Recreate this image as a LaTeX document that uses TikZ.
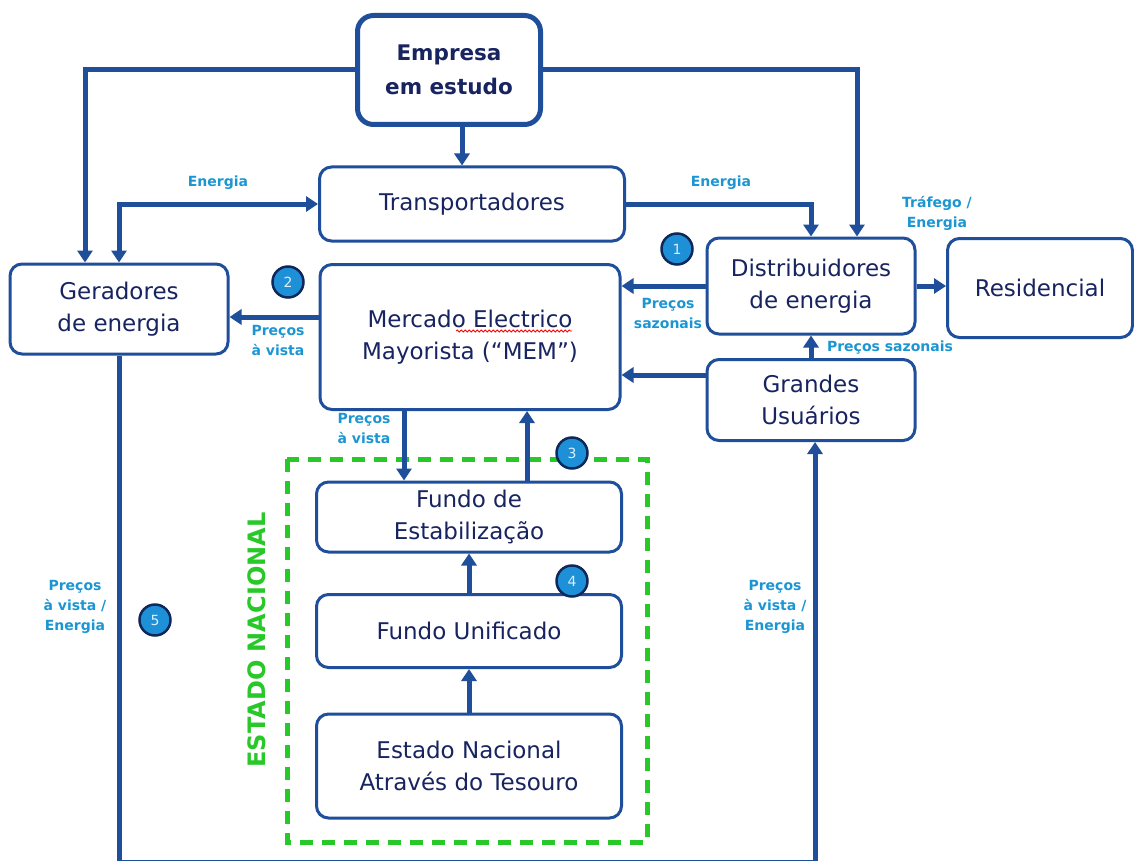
\documentclass[tikz,border=0pt]{standalone}
\usepackage{fontspec}
\setmainfont{DejaVu Sans}
\usetikzlibrary{arrows.meta,decorations.pathmorphing}
\definecolor{lineblue}{RGB}{31,78,154}
\definecolor{txtnavy}{RGB}{24,36,96}
\definecolor{lblblue}{RGB}{28,150,210}
\definecolor{circfill}{RGB}{30,144,216}
\definecolor{circedge}{RGB}{14,40,90}
\definecolor{dashgreen}{RGB}{40,200,40}
\tikzset{
  box/.style={draw=lineblue, line width=3pt, rounded corners=12pt, fill=white, text=txtnavy,
    align=center, font=\fontsize{23}{32}\selectfont, inner sep=0pt},
  conn/.style={draw=lineblue, line width=5pt, -{Triangle[length=12pt,width=15pt]}},
  biconn/.style={draw=lineblue, line width=5pt, {Triangle[length=12pt,width=15pt]}-{Triangle[length=12pt,width=15pt]}},
  lbl/.style={text=lblblue, font=\bfseries\fontsize{14}{20}\selectfont, align=center, inner sep=0pt},
  num/.style={circle, fill=circfill, draw=circedge, line width=2.5pt, minimum size=31pt,
    inner sep=0pt, text=white!85!circfill, font=\fontsize{14}{14}\selectfont},
}
\begin{document}
\begin{tikzpicture}[x=1pt,y=-1pt]
\useasboundingbox (0,0) rectangle (1134,861);
% green dashed region
\draw[dashgreen, line width=5pt, dash pattern=on 13pt off 9pt] (287,459) rectangle (647,842);
\node[text=dashgreen, font=\bfseries\fontsize{24}{24}\selectfont, rotate=90, inner sep=0pt] (estlbl) at (257,640) {ESTADO NACIONAL};

% nodes
\node[box, line width=5pt, rounded corners=16pt, minimum width=183pt, minimum height=109pt, font=\bfseries\fontsize{21.5}{34}\selectfont] (emp) at (449,70) {Empresa\\em estudo};
\node[box, minimum width=305pt, minimum height=74pt] (trans) at (472,204) {Transportadores};
\node[box, minimum width=218pt, minimum height=90pt] (ger) at (119,309) {Geradores\\de energia};
\node[box, minimum width=300pt, minimum height=145pt] (mem) at (470,337) {Mercado Electrico\\Mayorista (“MEM”)};
\node[box, minimum width=208pt, minimum height=96pt] (dist) at (811,286) {Distribuidores\\de energia};
\node[box, minimum width=185pt, minimum height=99pt] (res) at (1040,288) {Residencial};
\node[box, minimum width=208pt, minimum height=81pt] (gu) at (811,400) {Grandes\\Usuários};
\node[box, minimum width=305pt, minimum height=70pt] (fe) at (469,517) {Fundo de\\Estabilização};
\node[box, minimum width=305pt, minimum height=73pt] (fu) at (469,631) {Fundo Unificado};
\node[box, minimum width=305pt, minimum height=104pt] (en) at (469,766) {Estado Nacional\\Através do Tesouro};

% spell-check underline
\draw[red, line width=0.8pt, decorate, decoration={snake, amplitude=1pt, segment length=4pt}] (456,331) -- (572,331);

% connectors
\coordinate (bot) at (0,862);
\coordinate (memw) at ([yshift=20pt]mem.west);
\coordinate (guw) at ([yshift=25pt]gu.west);
\coordinate (mems) at ([xshift=-66pt]mem.south);
\coordinate (fen) at ([xshift=58pt]fe.north);
\coordinate (emps) at ([xshift=13pt]emp.south);
\draw[conn] (emp.west) -| ([xshift=-34pt]ger.north);
\draw[conn] (emp.east) -| ([xshift=46pt]dist.north);
\draw[conn] (emps) -- (emps |- trans.north);
\draw[biconn] (ger.north) |- (trans.west);
\draw[conn] (trans.east) -| (dist.north);
\draw[conn] (dist.west) -- (mem.east |- dist.west);
\draw[conn] (memw) -- (ger.east |- memw);
\draw[conn] (guw) -- (mem.east |- guw);
\draw[conn] (gu.north) -- (dist.south);
\draw[conn] (dist.east) -- (res.west |- dist.east);
\draw[conn] (mems) -- (mems |- fe.north);
\draw[conn] (fen) -- (fen |- mem.south);
\draw[conn] (fu.north) -- (fe.south);
\draw[conn] (en.north) -- (fu.south);
\draw[conn] (ger.south) -- (ger.south |- bot) -| ([xshift=4pt]gu.south);

% labels
\node[lbl] (l1) at (218,183) {Energia};
\node[lbl] (l2) at (721,183) {Energia};
\node[lbl] (l3) at (937,213) {Tráfego /\\Energia};
\node[lbl] (l4) at (668,313) {Preços\\sazonais};
\node[lbl] (l5) at (278,340) {Preços\\à vista};
\node[lbl] (l6) at (890,348) {Preços sazonais};
\node[lbl, align=left] (l7) at (364,428) {Preços\\à vista};
\node[lbl] (l8) at (75,607) {Preços\\à vista /\\Energia};
\node[lbl] (l9) at (775,607) {Preços\\à vista /\\Energia};

% numbered circles
\node[num] (n1) at (677,249) {1};
\node[num] (n2) at (288,282) {2};
\node[num] (n3) at (572,453) {3};
\node[num] (n4) at (572,581) {4};
\node[num] (n5) at (155,620) {5};
\end{tikzpicture}
\end{document}
